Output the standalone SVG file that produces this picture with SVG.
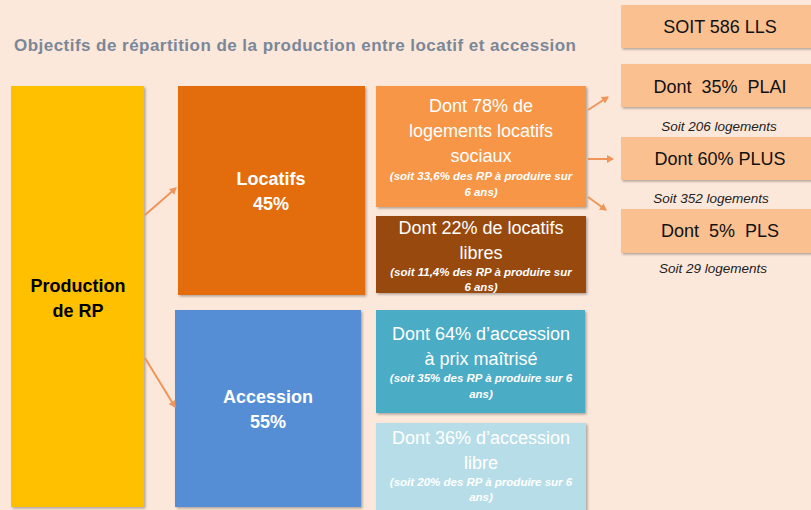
<svg xmlns="http://www.w3.org/2000/svg" width="811" height="510" viewBox="0 0 811 510">
<defs>
<filter id="sh" x="-5%" y="-5%" width="115%" height="115%"><feDropShadow dx="1.5" dy="1.5" stdDeviation="1" flood-color="#000" flood-opacity="0.3"/></filter>
<marker id="ah" markerWidth="8" markerHeight="8" refX="6" refY="4" orient="auto" markerUnits="userSpaceOnUse"><path d="M0,0 L7,4 L0,8 z" fill="#F0955A"/></marker>
</defs>
<style>
.t{font-family:"Liberation Sans",Arial,sans-serif;text-anchor:middle}
.b{font-weight:bold}
.w{fill:#fff}
.m{font-size:18px}
.s{font-size:11.5px;font-weight:bold;font-style:italic}
.r{font-size:18px;fill:#111;white-space:pre}
.n{font-size:13.5px;font-style:italic;fill:#222}
.c{stroke:#F0955A;stroke-width:2;fill:none;marker-end:url(#ah)}
</style>
<rect width="811" height="510" fill="#FCE8DA"/>
<text x="14" y="51" font-family="Liberation Sans, Arial, sans-serif" font-size="17" font-weight="bold" fill="#7A8799" textLength="562">Objectifs de répartition de la production entre locatif et accession</text>
<g id="production"><rect x="11" y="86" width="133" height="421" fill="#FFC000" filter="url(#sh)"/>
<text class="t b" font-size="18" fill="#000"><tspan x="78" y="292">Production</tspan><tspan x="78" y="317">de RP</tspan></text></g>
<g id="locatifs"><rect x="178" y="86" width="187" height="209" fill="#E36C0A" filter="url(#sh)"/>
<text class="t b w" font-size="18"><tspan x="271" y="185">Locatifs</tspan><tspan x="271" y="210">45%</tspan></text></g>
<g id="accession"><rect x="175" y="310" width="186" height="197" fill="#558ED5" filter="url(#sh)"/>
<text class="t b w" font-size="18"><tspan x="268" y="403">Accession</tspan><tspan x="268" y="428">55%</tspan></text></g>
<g id="lls78"><rect x="376" y="86" width="210" height="121" fill="#F79646" filter="url(#sh)"/>
<text class="t w"><tspan class="m" x="481" y="112">Dont 78% de</tspan><tspan class="m" x="481" y="137">logements locatifs</tspan><tspan class="m" x="481" y="162">sociaux</tspan><tspan class="s" x="481" y="180">(soit 33,6% des RP à produire sur</tspan><tspan class="s" x="481" y="196">6 ans)</tspan></text></g>
<g id="libres22"><rect x="376" y="216" width="210" height="77" fill="#984807" filter="url(#sh)"/>
<text class="t w"><tspan class="m" x="481" y="234">Dont 22% de locatifs</tspan><tspan class="m" x="481" y="259">libres</tspan><tspan class="s" x="481" y="276">(soit 11,4% des RP à produire sur</tspan><tspan class="s" x="481" y="291">6 ans)</tspan></text></g>
<g id="acc64"><rect x="376" y="310" width="209" height="103" fill="#4BACC6" filter="url(#sh)"/>
<text class="t w"><tspan class="m" x="481" y="340">Dont 64% d’accession</tspan><tspan class="m" x="481" y="365">à prix maîtrisé</tspan><tspan class="s" x="481" y="382">(soit 35% des RP à produire sur 6</tspan><tspan class="s" x="481" y="398">ans)</tspan></text></g>
<g id="acc36"><rect x="376" y="423" width="210" height="90" fill="#B7DEE8" filter="url(#sh)"/>
<text class="t w"><tspan class="m" x="481" y="444">Dont 36% d’accession</tspan><tspan class="m" x="481" y="469">libre</tspan><tspan class="s" x="481" y="486">(soit 20% des RP à produire sur 6</tspan><tspan class="s" x="481" y="501">ans)</tspan></text></g>
<g id="soit586"><rect x="621" y="5" width="195" height="43" fill="#FAC090" filter="url(#sh)"/>
<text class="t r" x="720" y="33">SOIT 586 LLS</text></g>
<g id="plai"><rect x="621" y="64" width="195" height="43" fill="#FAC090" filter="url(#sh)"/>
<text class="t r" x="720" y="93">Dont  35%  PLAI</text>
<text class="t n" x="719" y="131">Soit 206 logements</text></g>
<g id="plus"><rect x="621" y="137" width="195" height="43" fill="#FAC090" filter="url(#sh)"/>
<text class="t r" x="720" y="165">Dont 60% PLUS</text>
<text class="t n" x="711" y="203">Soit 352 logements</text></g>
<g id="pls"><rect x="621" y="209" width="195" height="44" fill="#FAC090" filter="url(#sh)"/>
<text class="t r" x="720" y="237">Dont  5%  PLS</text>
<text class="t n" x="713" y="273">Soit 29 logements</text></g>
<g id="connectors">
<line class="c" x1="145" y1="215" x2="176" y2="188"/>
<line class="c" x1="145" y1="358" x2="175" y2="407"/>
<line class="c" x1="588" y1="110" x2="608" y2="97"/>
<line class="c" x1="588" y1="159" x2="613" y2="159"/>
<line class="c" x1="588" y1="197" x2="606" y2="210"/>
</g>
</svg>
